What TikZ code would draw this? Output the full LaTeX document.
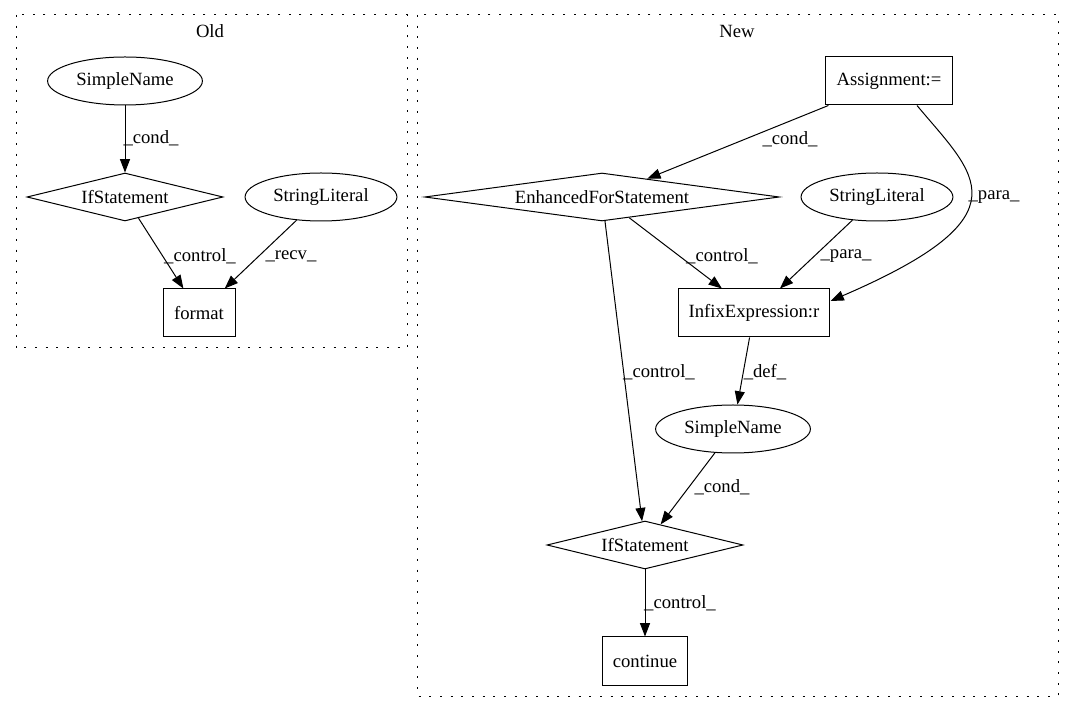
\documentclass[tikz,border=0pt]{standalone}
\usepackage{fontspec}
\setmainfont{Liberation Serif}
\usepackage{tikz}
\usetikzlibrary{calc}
\usetikzlibrary{shapes}
\usetikzlibrary{arrows.meta}

\begin{document}
\begin{tikzpicture}[x=0.75pt,y=-0.75pt,line width=0.75pt,>={Triangle[length=10pt,width=7.5pt]},
		txt/.style={font=\fontsize{14pt}{16pt}\selectfont},
		ellip/.style={txt,ellipse,draw=black,inner xsep=4.5pt,inner ysep=3pt,minimum height=36pt},
		dia/.style={txt,diamond,draw=black,aspect=5,inner sep=0pt,minimum height=36pt},
		box/.style={txt,rectangle,draw=black,inner xsep=8pt,minimum width=54pt,minimum height=36pt},
		lbl/.style={txt,inner sep=0pt},
		cluster/.style={dash pattern=on 1.5pt off 6.5pt}]
		\useasboundingbox (0,0) rectangle (1075,712);

		%clusters
		\draw [cluster] (16,15) rectangle (407,348);
		\draw [cluster] (417,15) rectangle (1058,696);
		\node [lbl] at (210,31) (oldtitle) {Old};
		\node [lbl] at (737,31) (newtitle) {New};

		%elements old
		\node [ellip] at (125,81) (oldname) {SimpleName};
		\node [dia,minimum width=147pt] at (125,197) (oldif) {IfStatement};
		\node [ellip] at (321,197) (oldstr) {StringLiteral};
		\node [box] at (199,313) (format) {format};

		%elements new
		\node [box] at (889,81) (assign) {Assignment:=};
		\node [dia,aspect=7,minimum width=266pt] at (602,197) (enhfor) {EnhancedForStatement};
		\node [ellip] at (877,197) (newstr) {StringLiteral};
		\node [box] at (754,313) (infix) {InfixExpression:r};
		\node [ellip] at (733,429) (newname) {SimpleName};
		\node [dia,minimum width=147pt] at (645,545) (newif) {IfStatement};
		\node [box] at (645,661) (cont) {continue};

		%edges old
		\draw [->] (oldname) -- (oldif) node [lbl] at (151,138) {\_cond\_};
		\draw [->] (oldif) -- (format) node [lbl] at (200,256) {\_control\_};
		\draw [->] (oldstr) -- (format) node [lbl] at (291,256) {\_recv\_};

		%edges new
		\draw [->] (assign) -- (enhfor) node [lbl] at (790,139) {\_cond\_};
		\draw [->] ($(assign.south)+(28,0)$) .. controls (975,175) and (1030,215) .. ($(infix.east)+(0,-12)$) node [lbl] at (994,197) {\_para\_};
		\draw [->] (newstr) -- (infix) node [lbl] at (846,256) {\_para\_};
		\draw [->] (enhfor) -- (infix) node [lbl] at (722,256) {\_control\_};
		\draw [->] (enhfor) -- (newif) node [lbl] at (659,372) {\_control\_};
		\draw [->] (infix) -- (newname) node [lbl] at (765,372) {\_def\_};
		\draw [->] (newname) -- (newif) node [lbl] at (722,487) {\_cond\_};
		\draw [->] (newif) -- (cont) node [lbl] at (680,603) {\_control\_};
\end{tikzpicture}
\end{document}
